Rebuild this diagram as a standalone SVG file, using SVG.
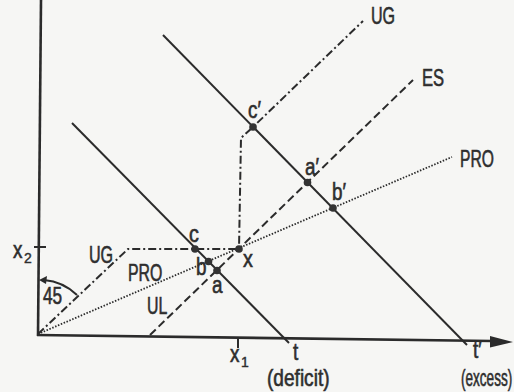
<svg xmlns="http://www.w3.org/2000/svg" width="514" height="392" viewBox="0 0 514 392">
<style>
.ln{fill:none;stroke:#2b2b2b;stroke-width:2}
.ax{fill:none;stroke:#2b2b2b;stroke-width:2.6}
.dd{fill:none;stroke:#2b2b2b;stroke-width:2;stroke-dasharray:8 3 2 3}
.ds{fill:none;stroke:#2b2b2b;stroke-width:2;stroke-dasharray:8 4}
.dt{fill:none;stroke:#2b2b2b;stroke-width:1.8;stroke-dasharray:1.5 1.6}
.lb{font-family:"Liberation Sans",Arial,sans-serif;font-size:23px;fill:#2e2e2e;stroke:#2e2e2e;stroke-width:0.6}
.sm{font-family:"Liberation Sans",Arial,sans-serif;font-size:14px;fill:#2e2e2e;stroke:#2e2e2e;stroke-width:0.4}
.pt{fill:#333}
</style>
<rect width="514" height="392" fill="#f6f6f4"/>
<g id="axes">
<line class="ax" x1="41" y1="0" x2="38" y2="336"/>
<line class="ax" x1="37" y1="335" x2="492" y2="341"/>
<polygon points="513,342 490,336 490,347.5" fill="#2b2b2b"/>
<line class="ln" x1="238" y1="338" x2="238" y2="348"/>
<line class="ln" x1="34" y1="247" x2="46" y2="247"/>
<path class="ln" d="M77,295 A54,54 0 0 0 44,280" stroke-width="1.6"/>
<polygon points="39,280 47,276 46,284" fill="#2b2b2b"/>
<text class="lb" transform="translate(43,304) scale(0.75,1)">45</text>
<text class="lb" transform="translate(13,258) scale(0.82,1)">x</text>
<text class="sm" x="24" y="263">2</text>
<text class="lb" transform="translate(230,362) scale(0.82,1)">x</text>
<text class="sm" x="241" y="367">1</text>
</g>
<g id="connectors">
<line id="t-line" class="ln" x1="72" y1="123" x2="289" y2="343"/>
<line id="t2-line" class="ln" x1="163" y1="35" x2="467" y2="345"/>
<path id="UG-line" class="dd" d="M38,334 L128,249 L239,249 L241,138 L253,127 L363,21"/>
<path id="ES-line" class="ds" d="M150,335 L413,80"/>
<path id="PRO-line" class="dt" d="M38,334 L452,157"/>
</g>
<g id="curve-labels">
<text class="lb" transform="translate(371,24) scale(0.7,1)">UG</text>
<text class="lb" transform="translate(422,86) scale(0.72,1)">ES</text>
<text class="lb" transform="translate(460,167) scale(0.68,1)">PRO</text>
<text class="lb" transform="translate(89,263) scale(0.7,1)">UG</text>
<text class="lb" transform="translate(128,281) scale(0.69,1)">PRO</text>
<text class="lb" transform="translate(147,314) scale(0.69,1)">UL</text>
</g>
<g id="node-t">
<text class="lb" transform="translate(293,360) scale(0.82,1)">t</text>
<text class="lb" transform="translate(267,386) scale(0.83,1)">(deficit)</text>
</g>
<g id="node-t2">
<text class="lb" transform="translate(473,358) scale(0.82,1)">t′</text>
<text class="lb" transform="translate(461,386) scale(0.59,1)">(excess)</text>
</g>
<g id="node-c"><circle class="pt" cx="195" cy="249" r="3.8"/><text class="lb" transform="translate(189,242) scale(0.86,1)">c</text></g>
<g id="node-b"><circle class="pt" cx="208.5" cy="261.5" r="3.8"/><text class="lb" transform="translate(196,275) scale(0.82,1)">b</text></g>
<g id="node-a"><circle class="pt" cx="217" cy="270.5" r="3.8"/><text class="lb" transform="translate(212,293) scale(0.82,1)">a</text></g>
<g id="node-x"><circle class="pt" cx="239" cy="249" r="3.8"/><text class="lb" transform="translate(243,267) scale(0.86,1)">x</text></g>
<g id="node-c2"><circle class="pt" cx="253" cy="127" r="3.8"/><text class="lb" transform="translate(248,118) scale(0.82,1)">c′</text></g>
<g id="node-a2"><circle class="pt" cx="307.5" cy="182.5" r="3.8"/><text class="lb" transform="translate(305,175) scale(0.82,1)">a′</text></g>
<g id="node-b2"><circle class="pt" cx="333" cy="208" r="3.8"/><text class="lb" transform="translate(332,200) scale(0.82,1)">b′</text></g>
</svg>
